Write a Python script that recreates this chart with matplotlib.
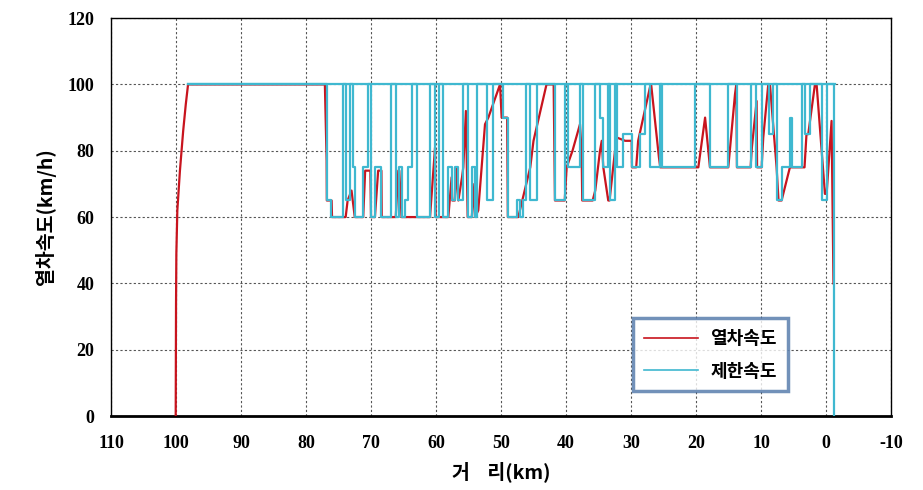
import numpy as np
import matplotlib
matplotlib.use("Agg")
import matplotlib.pyplot as plt

# ---------------- data ----------------
# speed-limit profile: each entry = (km where the limit starts, limit km/h), km decreasing
limit_start_km = [98.2, 76.8, 76.1, 74.3, 73.9, 73.2, 72.8, 72.5, 71.2, 70.4, 70.0, 69.4, 68.4,
                  66.9, 66.2, 65.7, 65.3, 64.7, 64.3, 63.7, 63.0, 60.9, 60.1, 59.6, 59.0, 58.1,
                  57.6, 57.1, 56.6, 55.8, 55.1, 54.5, 54.0, 53.7, 52.2, 51.2, 49.75, 49.0, 47.6,
                  47.1, 46.6, 46.1, 45.5, 44.4, 41.7, 40.2, 39.7, 37.8, 37.4, 35.5, 34.8, 34.3,
                  33.6, 33.3, 32.5, 32.2, 31.2, 29.9, 28.6, 27.8, 27.1, 25.5, 25.3, 20.2, 17.9,
                  15.0, 13.7, 11.6, 10.7, 9.9, 8.8, 8.1, 7.6, 6.8, 5.55, 5.3, 3.75, 3.24, 2.47,
                  0.67, -0.1, -1.2]
limit_kph = [100, 65, 60, 100, 65, 100, 75, 60, 75, 100, 60, 75, 60,
             100, 60, 75, 60, 65, 75, 100, 60, 100, 60, 100, 60, 75,
             65, 75, 65, 100, 60, 75, 60, 100, 65, 100, 90, 60, 65,
             60, 65, 100, 65, 100, 65, 100, 75, 100, 65, 100, 90, 75,
             100, 65, 100, 75, 85, 75, 85, 100, 75, 100, 75, 100, 75,
             100, 75, 100, 75, 100, 85, 100, 65, 75, 90, 75, 100, 85, 100,
             65, 100, 0]
limit_end_km = -1.2
# the 100 km/h line of the speed-limit series over the whole section
limit_top_km = [98.2, -1.35]
limit_top_kph = [100, 100]

# train speed trace (km, km/h)
train_km = [100.05, 100.0, 99.95, 99.8, 99.4, 98.9, 98.5, 98.15,
            77.1, 76.83, 76.8, 76.06, 76.0, 73.9, 73.6, 73.0, 72.5, 71.2, 70.9, 70.1, 70.0,
            69.4, 68.9, 68.4, 68.35, 66.2, 65.8, 65.65, 65.3, 60.92, 60.15, 60.05,
            58.1, 57.6, 57.5, 57.1, 56.8, 56.56, 56.0, 55.8, 55.4, 55.13, 54.5, 54.1, 54.0,
            53.5, 52.46, 51.95, 50.15, 49.9, 49.05, 48.95, 47.34, 45.5, 45.0, 43.0,
            41.9, 41.7, 40.2, 39.9, 39.0, 37.85, 37.6, 37.5, 35.9, 35.5, 34.77, 34.5,
            34.26, 33.5, 33.3, 32.46, 32.2, 30.9, 29.9, 29.85, 29.2, 28.9, 27.1, 26.9,
            25.7, 25.5, 19.64, 18.6, 17.85, 15.03, 14.0, 13.8, 13.7, 11.6, 11.4, 10.67,
            10.6, 9.9, 9.65, 8.88, 8.62, 7.6, 7.3, 6.83, 5.55, 3.3, 3.0, 2.73, 1.7,
            1.44, 0.16, -0.1, -0.86, -1.1, -1.15]
train_kph = [0, 34, 49, 62, 74, 86, 94, 100,
             100, 77, 65, 65, 60, 60, 65, 68, 60, 60, 74, 74, 60,
             60, 74, 74, 60, 60, 74, 74, 60, 60, 81, 60,
             60, 72, 65, 65, 75, 65, 72, 75, 92, 60, 60, 70, 60,
             62, 88, 90, 100, 90, 90, 60, 60, 75, 83, 100,
             100, 65, 65, 75, 80, 88, 80, 65, 65, 68, 80, 83,
             75, 65, 65, 80, 84, 83, 83, 75, 75, 83, 99, 100,
             78, 75, 75, 90, 75, 75, 97, 100, 75, 75, 81, 95,
             75, 75, 84, 100, 100, 75, 65, 65, 75, 75, 85, 85, 100,
             100, 67, 67, 89, 49, 40]

x_ticks = [110, 100, 90, 80, 70, 60, 50, 40, 30, 20, 10, 0, -10]
y_ticks = [0, 20, 40, 60, 80, 100, 120]
legend_labels = ["열차속도", "제한속도"]
x_label = "거    리(km)"
y_label = "열차속도(km/h)"

# ---------------- style ----------------
RED = "#C8141E"
CYAN = "#3FB8D0"
KFONT = ["Noto Sans CJK KR", "DejaVu Sans"]
NFONT = "Liberation Serif"

fig = plt.figure(figsize=(9.23, 4.90), dpi=100)
ax = fig.add_axes([0.1203, 0.151, 0.845, 0.812])

# step arrays for the limit profile
lk = np.array(limit_start_km + [limit_end_km])
lv = np.array(limit_kph)
step_x = np.repeat(lk, 2)[1:-1]
step_y = np.repeat(lv, 2)

ax.plot(train_km, train_kph, color=RED, lw=1.6, zorder=3, label=legend_labels[0])
ax.plot(step_x, step_y, color=CYAN, lw=1.6, zorder=4, label=legend_labels[1])
ax.plot(limit_top_km, limit_top_kph, color=CYAN, lw=1.6, zorder=4)

ax.set_xlim(110, -10)
ax.set_ylim(0, 120)
ax.set_xticks(x_ticks)
ax.set_yticks(y_ticks)
ax.set_xticklabels([str(t) for t in x_ticks], fontfamily=NFONT, fontweight="bold", fontsize=13)
ax.set_yticklabels([str(t) for t in y_ticks], fontfamily=NFONT, fontweight="bold", fontsize=13)
ax.tick_params(length=0, pad=12)
ax.tick_params(axis="x", pad=14)

ax.grid(True, which="major", color="#555555", lw=0.8, ls=(0, (2, 2)))
ax.set_axisbelow(True)
for s in ax.spines.values():
    s.set_color("black")
    s.set_linewidth(1.0)
ax.spines["bottom"].set_linewidth(2.0)

ax.set_xlabel(x_label, fontfamily=KFONT, fontweight="bold", fontsize=14, labelpad=6)
ax.set_ylabel(y_label, fontfamily=KFONT, fontweight="bold", fontsize=14, labelpad=8)

leg = ax.legend(loc="lower left", bbox_to_anchor=(0.669, 0.062), frameon=True, fancybox=False,
                prop={"family": KFONT, "weight": "bold", "size": 13}, handlelength=3.0,
                labelspacing=0.75, borderpad=0.6, handletextpad=0.7, borderaxespad=0)
leg.get_frame().set_edgecolor("#4F76A8")
leg.get_frame().set_linewidth(2.5)
for h in leg.get_lines():
    h.set_linewidth(1.2)

fig.savefig("out.png", dpi=100)
